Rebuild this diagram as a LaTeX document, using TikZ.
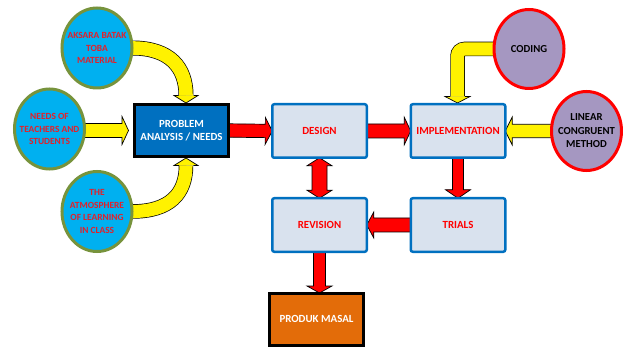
\documentclass[tikz,border=0pt]{standalone}
\usepackage{fontspec}
\setmainfont{Carlito}
\usetikzlibrary{shapes.geometric,calc}
\definecolor{cyanfill}{HTML}{00B0F0}
\definecolor{olivering}{HTML}{77933C}
\definecolor{purpfill}{HTML}{A597C1}
\definecolor{boxblue}{HTML}{0070C0}
\definecolor{boxfill}{HTML}{D9E2EE}
\definecolor{orangefill}{HTML}{E36C09}
\definecolor{redtxt}{HTML}{E3202A}
\pgfdeclarelayer{background}
\pgfsetlayers{background,main}
\newcommand\blockarrow[6]{%
  \path ($(#2)!#6!(#1)$) coordinate (bh);
  \filldraw[arrowline,fill=#3] ($(#1)!#4!90:(#2)$) -- ($(bh)!#4!90:(#2)$) -- ($(bh)!#5!90:(#2)$) -- (#2) -- ($(bh)!#5!-90:(#2)$) -- ($(bh)!#4!-90:(#2)$) -- ($(#1)!#4!-90:(#2)$) -- cycle;}
\newcommand\dblockarrow[6]{%
  \path ($(#2)!#6!(#1)$) coordinate (bh) ($(#1)!#6!(#2)$) coordinate (bt);
  \filldraw[arrowline,fill=#3] ($(bt)!#4!90:(#2)$) -- ($(bh)!#4!90:(#2)$) -- ($(bh)!#5!90:(#2)$) -- (#2) -- ($(bh)!#5!-90:(#2)$) -- ($(bh)!#4!-90:(#2)$) -- ($(bt)!#4!-90:(#2)$) -- ($(bt)!#5!-90:(#2)$) -- (#1) -- ($(bt)!#5!90:(#2)$) -- cycle;}
\begin{document}
\begin{tikzpicture}[x=1pt,y=-1pt,
  arrowline/.style={draw=black,line width=0.7pt,line join=miter},
  cyancirc/.style={ellipse,draw=olivering,line width=3pt,fill=cyanfill,minimum width=70pt,minimum height=80pt,inner sep=0pt,outer sep=0pt},
  purpcirc/.style={ellipse,draw=red,line width=3pt,fill=purpfill,minimum width=70pt,minimum height=79pt,inner sep=0pt,outer sep=0pt},
  cyantext/.style={text=redtxt,font=\fontsize{9.4}{12.7}\selectfont\bfseries,align=center,inner sep=0pt},
  purptext/.style={text=black,font=\fontsize{10.7}{13.5}\selectfont\bfseries,align=center,inner sep=0pt},
  stepbox/.style={rectangle,draw=boxblue,line width=2.5pt,fill=boxfill,rounded corners=2pt,minimum width=94.5pt,minimum height=53.5pt,outer sep=0pt,text=red,font=\fontsize{10.9}{13}\selectfont\bfseries,align=center},
  darkbox/.style={rectangle,draw=black,line width=3pt,minimum width=94pt,minimum height=52pt,outer sep=0pt,text=white,font=\fontsize{10.9}{13.3}\selectfont\bfseries,align=center}]
\useasboundingbox (0,0) rectangle (623,347);
% circles
\node[cyancirc] (aksara) at (97,48) {};
\node[cyantext] at (aksara) {AKSARA BATAK\\TOBA\\MATERIAL};
\node[cyancirc] (needs) at (49.5,129) {};
\node[cyantext] at (needs) {NEEDS OF\\TEACHERS AND\\STUDENTS};
\node[cyancirc] (atmos) at (97,211.5) {};
\node[cyantext] at (atmos) {THE\\ATMOSPHERE\\OF LEARNING\\IN CLASS};
\node[purpcirc] (coding) at (529,49) {};
\node[purptext] at (coding) {CODING};
\node[purpcirc] (linear) at (586.5,131) {};
\node[purptext] at (linear) {LINEAR\\CONGRUENT\\METHOD};
% boxes
\node[darkbox,fill=boxblue] (prob) at (181.5,130.5) {PROBLEM\\ANALYSIS / NEEDS};
\node[stepbox] (design) at (319.5,131) {DESIGN};
\node[stepbox] (impl) at (458,131) {IMPLEMENTATION};
\node[stepbox] (revision) at (319.5,225) {REVISION};
\node[stepbox] (trials) at (458,225) {TRIALS};
\node[darkbox,fill=orangefill] (produk) at (316.5,319) {PRODUK MASAL};
\begin{pgfonlayer}{background}
\fill[white] (0,0) rectangle (623,347);
% straight yellow arrows
\coordinate (n0) at (needs.east |- prob.west);
\coordinate (n1) at ($(prob.west)+(-6,0)$);
\blockarrow{n0}{n1}{yellow}{7pt}{14pt}{6.5pt}
\blockarrow{linear.west}{impl.east}{yellow}{6.7pt}{14pt}{7pt}
% red arrows
\blockarrow{prob.east}{design.west}{red}{6.7pt}{13.5pt}{7pt}
\blockarrow{design.east}{impl.west}{red}{7pt}{13.8pt}{6.5pt}
\blockarrow{impl.south}{trials.north}{red}{5.5pt}{12.5pt}{8.5pt}
\blockarrow{trials.west}{revision.east}{red}{7pt}{13pt}{7pt}
\coordinate (p1) at (revision.south |- produk.north);
\blockarrow{revision.south}{p1}{red}{6pt}{12.5pt}{7pt}
\dblockarrow{design.south}{revision.north}{red}{7.5pt}{12.5pt}{8pt}
% curved yellow arrow from AKSARA
\coordinate (k1) at ($(prob.north)+(4.5,-1.5)$);
\coordinate (kb1) at ($(k1)+(0,-7.5)$);
\draw[line width=15pt] (aksara.east) .. controls ($(aksara.east)+(38,0)$) and ($(kb1)+(0,-28)$) .. (kb1);
\draw[line width=13.6pt,yellow] (aksara.east) .. controls ($(aksara.east)+(38,0)$) and ($(kb1)+(0,-28)$) .. (kb1);
\fill[yellow] ($(kb1)+(-12,0)$) -- (k1) -- ($(kb1)+(12,0)$) -- cycle;
\draw[arrowline] ($(kb1)+(-7.5,0)$) -- ($(kb1)+(-12,0)$) -- (k1) -- ($(kb1)+(12,0)$) -- ($(kb1)+(7.5,0)$);
% curved yellow arrow from ATMOSPHERE
\coordinate (k2) at ($(prob.south)+(4.5,1.5)$);
\coordinate (kb2) at ($(k2)+(0,7.5)$);
\draw[line width=14.5pt] (atmos.east) .. controls ($(atmos.east)+(38,0)$) and ($(kb2)+(0,28)$) .. (kb2);
\draw[line width=13.1pt,yellow] (atmos.east) .. controls ($(atmos.east)+(38,0)$) and ($(kb2)+(0,28)$) .. (kb2);
\fill[yellow] ($(kb2)+(-12,0)$) -- (k2) -- ($(kb2)+(12,0)$) -- cycle;
\draw[arrowline] ($(kb2)+(-7.25,0)$) -- ($(kb2)+(-12,0)$) -- (k2) -- ($(kb2)+(12,0)$) -- ($(kb2)+(7.25,0)$);
% bent yellow arrow from CODING
\coordinate (k3) at ($(impl.north)+(-0.5,-1.25)$);
\coordinate (kb3) at ($(k3)+(0,-6.5)$);
\draw[line width=14.5pt,rounded corners=7pt] (coding.west) -- (coding.west -| k3) -- (kb3);
\draw[line width=13.1pt,yellow,rounded corners=7pt] (coding.west) -- (coding.west -| k3) -- (kb3);
\fill[yellow] ($(kb3)+(-12.5,0)$) -- (k3) -- ($(kb3)+(12.5,0)$) -- cycle;
\draw[arrowline] ($(kb3)+(-7.25,0)$) -- ($(kb3)+(-12.5,0)$) -- (k3) -- ($(kb3)+(12.5,0)$) -- ($(kb3)+(7.25,0)$);
\end{pgfonlayer}
\end{tikzpicture}
\end{document}
